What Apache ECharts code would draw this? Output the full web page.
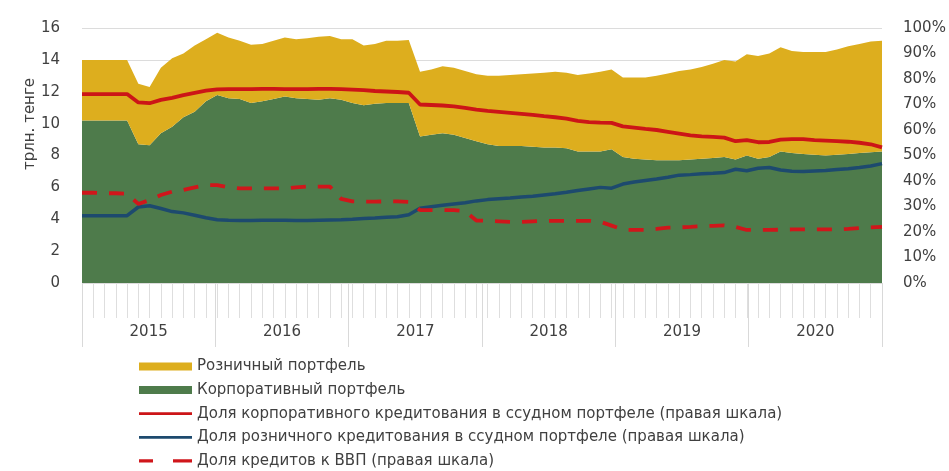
<!DOCTYPE html>
<html>
<head>
<meta charset="utf-8">
<script src="https://cdn.jsdelivr.net/npm/echarts@6/dist/echarts.min.js"></script>
<style>
html,body{margin:0;padding:0;background:#fff;}
#chart{width:949px;height:471px;}
</style>
</head>
<body>
<div id="chart"></div>
<script>
// ---- Data ----
var years = ['2015', '2016', '2017', '2018', '2019', '2020'];
var monthNums = ['01','02','03','04','05','06','07','08','09','10','11','12'];

// Корпоративный портфель, трлн. тенге
var corporate = [
  10.2, 10.2, 10.2, 10.2, 10.2, 8.7, 8.65, 9.4, 9.8, 10.4, 10.75, 11.4,
  11.8, 11.6, 11.55, 11.3, 11.4, 11.55, 11.7, 11.6, 11.55, 11.5, 11.6, 11.5,
  11.3, 11.15, 11.25, 11.3, 11.3, 11.3, 9.2, 9.3, 9.4, 9.3, 9.1, 8.9,
  8.7, 8.6, 8.6, 8.6, 8.55, 8.5, 8.5, 8.45, 8.25, 8.25, 8.25, 8.4,
  7.9, 7.8, 7.75, 7.7, 7.7, 7.7, 7.75, 7.8, 7.85, 7.9, 7.75, 8.0,
  7.8, 7.9, 8.25, 8.15, 8.1, 8.05, 8.0, 8.05, 8.1, 8.15, 8.2, 8.25
];
// Розничный портфель, трлн. тенге
var retail = [
  3.8, 3.8, 3.8, 3.8, 3.8, 3.8, 3.65, 4.1, 4.3, 4.0, 4.15, 3.9,
  3.9, 3.8, 3.65, 3.65, 3.6, 3.65, 3.7, 3.7, 3.8, 3.95, 3.9, 3.8,
  4.0, 3.75, 3.75, 3.9, 3.9, 3.95, 4.05, 4.1, 4.2, 4.2, 4.2, 4.2,
  4.3, 4.4, 4.45, 4.5, 4.6, 4.7, 4.75, 4.75, 4.8, 4.9, 5.0, 5.0,
  5.0, 5.1, 5.15, 5.3, 5.45, 5.6, 5.65, 5.75, 5.9, 6.1, 6.15, 6.35,
  6.45, 6.5, 6.55, 6.4, 6.4, 6.45, 6.5, 6.6, 6.75, 6.85, 6.95, 6.95
];
// Доля корпоративного кредитования, %
var corpShare = [
  74.1, 74.1, 74.1, 74.1, 74.1, 70.8, 70.5, 71.8, 72.6, 73.7, 74.6, 75.4,
  75.9, 76.0, 76.0, 76.0, 76.1, 76.1, 76.0, 76.0, 76.0, 76.1, 76.1, 76.0,
  75.8, 75.6, 75.3, 75.1, 74.9, 74.6, 70.0, 69.8, 69.6, 69.3, 68.7, 68.0,
  67.5, 67.1, 66.7, 66.3, 65.9, 65.4, 65.0, 64.5, 63.6, 63.1, 62.9, 62.8,
  61.4, 60.9, 60.4, 60.0, 59.3, 58.6, 57.9, 57.5, 57.3, 57.0, 55.6, 56.0,
  55.2, 55.3, 56.2, 56.4, 56.4, 56.0, 55.8, 55.6, 55.4, 55.0, 54.4, 53.2
];
// Доля розничного кредитования, %
var retailShare = [
  26.4, 26.4, 26.4, 26.4, 26.4, 29.8, 30.3, 29.2, 28.0, 27.5, 26.6, 25.6,
  24.8, 24.6, 24.5, 24.5, 24.6, 24.6, 24.6, 24.5, 24.5, 24.6, 24.7, 24.8,
  25.0, 25.3, 25.5, 25.8, 26.0, 26.8, 29.3, 29.9, 30.5, 31.0, 31.5, 32.2,
  32.7, 33.0, 33.3, 33.7, 34.0, 34.5, 35.0, 35.6, 36.3, 36.9, 37.5, 37.2,
  38.8, 39.6, 40.2, 40.8, 41.5, 42.3, 42.5, 42.8, 43.0, 43.3, 44.6, 44.0,
  45.0, 45.3, 44.3, 43.8, 43.7, 43.9, 44.1, 44.5, 44.8, 45.3, 45.9, 46.8
];
// Доля кредитов к ВВП, %
var loansToGdp = [
  35.4, 35.4, 35.2, 35.2, 35.0, 31.0, 32.5, 34.5, 35.8, 36.5, 37.5, 38.4,
  38.4, 37.5, 37.1, 37.1, 37.1, 37.1, 37.1, 37.5, 37.8, 37.8, 37.8, 33.0,
  32.0, 31.9, 31.9, 32.0, 32.0, 31.8, 28.6, 28.6, 28.6, 28.6, 28.2, 24.5,
  24.4, 24.2, 24.0, 24.0, 24.2, 24.4, 24.4, 24.4, 24.4, 24.4, 24.0, 22.5,
  20.9, 20.8, 20.8, 21.2, 21.7, 21.8, 22.0, 22.3, 22.4, 22.6, 22.0, 20.8,
  20.8, 20.8, 20.9, 21.0, 21.0, 21.0, 21.0, 21.0, 21.2, 21.5, 21.8, 22.0
];

var months = [];
years.forEach(function (y) { monthNums.forEach(function (m) { months.push(y + '-' + m); }); });

var names = {
  retail: 'Розничный портфель',
  corp: 'Корпоративный портфель',
  corpShare: 'Доля корпоративного кредитования в ссудном портфеле (правая шкала)',
  retailShare: 'Доля розничного кредитования в ссудном портфеле (правая шкала)',
  gdp: 'Доля кредитов к ВВП (правая шкала)'
};

var FONT = '"DejaVu Sans", "Liberation Sans", Arial, sans-serif';
var FS = 15;
var TXT = '#404040';

var solidIcon = 'path://M0,0h0.1v0.1h-0.1Z M0,2.6h53v2.8h-53Z M52.9,7.9h0.1v0.1h-0.1Z';
var dashIcon = 'path://M0,0h0.1v0.1h-0.1Z M0,2.3h14v3.4h-14Z M34,2.3h19v3.4h-19Z M52.9,7.9h0.1v0.1h-0.1Z';

var chart = echarts.init(document.getElementById('chart'), null, {renderer: 'canvas'});
chart.setOption({
  animation: false,
  backgroundColor: '#ffffff',
  textStyle: {fontFamily: FONT},
  grid: {left: 82, right: 67, top: 28, bottom: 188},
  legend: {
    orient: 'vertical',
    left: 139,
    top: 359,
    height: 140,
    padding: 0,
    itemWidth: 53,
    itemHeight: 8,
    itemGap: 8.6,
    selectedMode: false,
    textStyle: {fontFamily: FONT, fontSize: FS, color: TXT},
    itemStyle: {borderWidth: 0},
    data: [
      {name: names.retail, icon: 'rect'},
      {name: names.corp, icon: 'rect'},
      {name: names.corpShare, icon: solidIcon},
      {name: names.retailShare, icon: solidIcon},
      {name: names.gdp, icon: dashIcon}
    ]
  },
  xAxis: [
    {
      type: 'category',
      data: months,
      boundaryGap: false,
      axisLine: {show: false},
      axisTick: {show: true, length: 35, interval: 0, lineStyle: {color: '#dedede', width: 1}},
      axisLabel: {show: false},
      splitLine: {show: false}
    },
    {
      type: 'category',
      data: years,
      boundaryGap: true,
      position: 'bottom',
      axisLine: {show: false},
      axisTick: {show: true, length: 64, interval: 0, lineStyle: {color: '#d9d9d9', width: 1}},
      axisLabel: {show: true, margin: 42, fontSize: FS, color: TXT, fontFamily: FONT, interval: 0},
      splitLine: {show: false}
    }
  ],
  yAxis: [
    {
      type: 'value',
      min: 0, max: 16, interval: 2,
      axisLine: {show: false},
      axisTick: {show: false},
      axisLabel: {margin: 22, fontSize: FS, color: TXT, fontFamily: FONT},
      splitLine: {show: true, lineStyle: {color: '#dcdcdc', width: 1}}
    },
    {
      type: 'value',
      min: 0, max: 100, interval: 10,
      position: 'right',
      axisLine: {show: false},
      axisTick: {show: false},
      axisLabel: {margin: 21, fontSize: FS, color: TXT, fontFamily: FONT, formatter: '{value}%'},
      splitLine: {show: false}
    }
  ],
  graphic: [
    {
      type: 'text',
      x: 30, y: 124,
      rotation: Math.PI / 2,
      style: {text: 'трлн. тенге', fontSize: FS, fontFamily: FONT, fill: TXT, align: 'center', verticalAlign: 'middle'}
    }
  ],
  series: [
    {
      name: names.corp, type: 'line', xAxisIndex: 0, yAxisIndex: 0, stack: 'portfolio',
      data: corporate, symbol: 'none', smooth: false,
      lineStyle: {width: 0}, itemStyle: {color: '#4E7B4B'},
      areaStyle: {color: '#4E7B4B', opacity: 1}, z: 1
    },
    {
      name: names.retail, type: 'line', xAxisIndex: 0, yAxisIndex: 0, stack: 'portfolio',
      data: retail, symbol: 'none', smooth: false,
      lineStyle: {width: 0}, itemStyle: {color: '#DDAE1E'},
      areaStyle: {color: '#DDAE1E', opacity: 1}, z: 1
    },
    {
      name: names.corpShare, type: 'line', xAxisIndex: 0, yAxisIndex: 1,
      data: corpShare, symbol: 'none',
      lineStyle: {width: 3.8, color: '#CC1517'}, itemStyle: {color: '#CC1517'}, z: 3
    },
    {
      name: names.retailShare, type: 'line', xAxisIndex: 0, yAxisIndex: 1,
      data: retailShare, symbol: 'none',
      lineStyle: {width: 3.5, color: '#1D4A6E'}, itemStyle: {color: '#1D4A6E'}, z: 3
    },
    {
      name: names.gdp, type: 'line', xAxisIndex: 0, yAxisIndex: 1,
      data: loansToGdp, symbol: 'none',
      lineStyle: {width: 3.8, color: '#D0161B', type: [15, 12]}, itemStyle: {color: '#D0161B'}, z: 3
    }
  ]
});
</script>
</body>
</html>
